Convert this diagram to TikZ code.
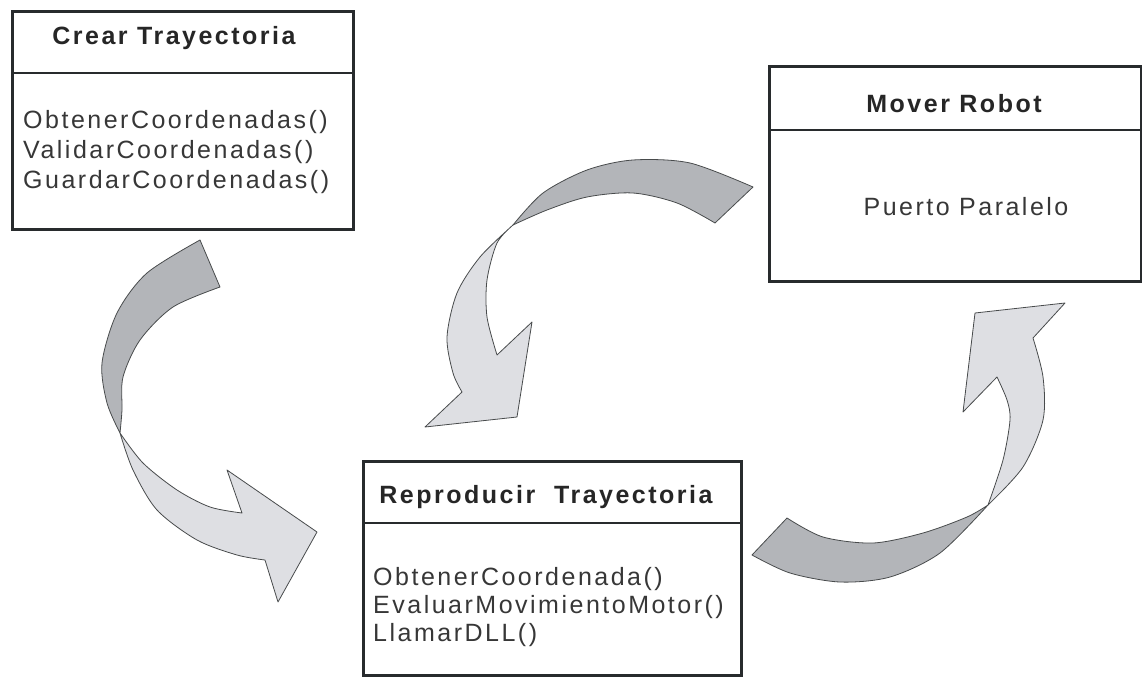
\documentclass[tikz,border=0pt]{standalone}
\usepackage{fontspec}
\setmainfont{Liberation Sans}
\newfontfamily\umlfont{Liberation Sans}[LetterSpace=10]
\usetikzlibrary{positioning}

\definecolor{cintaOscura}{RGB}{179,181,185}
\definecolor{cintaClara}{RGB}{222,223,227}
\definecolor{borde}{RGB}{40,43,45}
\definecolor{textoMetodo}{RGB}{55,55,55}

\begin{document}
\begin{tikzpicture}[x=1pt, y=-1pt,
    clase/.style={draw=borde, line width=2.6pt, rectangle, anchor=north west, inner sep=0pt},
    divisor/.style={draw=borde, line width=1.6pt},
    titulo/.style={font=\umlfont\fontsize{25}{28}\selectfont\bfseries, text=black!85, anchor=base, inner sep=0pt},
    metodos/.style={font=\umlfont\fontsize{25}{30}\selectfont, text=textoMetodo, align=left, anchor=north west, inner sep=0pt},
    cinta/.style={draw=borde!85, line width=0.8pt, line join=round},
    ]
  \useasboundingbox (0,0) rectangle (1142,677);

  % clases
  \node[clase, minimum width=341pt, minimum height=218pt] (crear) at (11,10) {};
  \node[clase, minimum width=372pt, minimum height=215pt] (mover) at (768,65) {};
  \node[clase, minimum width=378pt, minimum height=214pt] (reproducir) at (362,460) {};

  \draw[divisor] ([yshift=-63pt]crear.north west) -- ([yshift=-63pt]crear.north east);
  \draw[divisor] ([yshift=-65pt]mover.north west) -- ([yshift=-65pt]mover.north east);
  \draw[divisor] ([yshift=-63pt]reproducir.north west) -- ([yshift=-63pt]reproducir.north east);

  \node[titulo] (crearT) at (174,45) {Crear Trayectoria};
  \node[titulo] (moverT) at (954,112) {Mover Robot};
  \node[titulo] (reproducirT) at (546,503) {Reproducir\ \ Trayectoria};

  \node[metodos] (crearM) at (23,109.8) {ObtenerCoordenadas()\\ValidarCoordenadas()\\GuardarCoordenadas()};
  \node[metodos, anchor=base] (moverM) at (966,215) {Puerto Paralelo};
  \node[metodos, font=\umlfont\fontsize{25}{28}\selectfont] (reproducirM) at (373,566.8)
    {ObtenerCoordenada()\\EvaluarMovimientoMotor()\\LlamarDLL()};

  % cinta de Crear a Reproducir
  \path[cinta, fill=cintaOscura]
    plot[smooth] coordinates {(200,240) (147,273) (117,313) (102,363) (107,403) (120,433)}
    -- plot[smooth] coordinates {(120,433) (122,410) (123,377) (140,340) (173,307) (220,287)} -- cycle;
  \path[cinta, fill=cintaClara]
    plot[smooth] coordinates {(120,433) (143,463) (177,490) (210,507) (242,513)}
    -- (227,470) -- (317,532) -- (278,602) -- (265,560)
    -- plot[smooth] coordinates {(265,560) (237,555) (197,540) (157,510) (133,470) (120,433)} -- cycle;

  % cinta de Mover a Reproducir
  \path[cinta, fill=cintaOscura]
    plot[smooth] coordinates {(753,187) (690,163) (633,160) (587,170) (543,193) (513,225)}
    -- plot[smooth] coordinates {(513,225) (547,210) (587,197) (633,193) (677,203) (715,223)} -- cycle;
  \path[cinta, fill=cintaClara]
    plot[smooth] coordinates {(513,225) (497,243) (487,280) (487,317) (497,355)}
    -- (532,322) -- (517,417) -- (425,427) -- (462,392)
    -- plot[smooth] coordinates {(462,392) (453,373) (447,337) (457,293) (480,257) (513,225)} -- cycle;

  % cinta de Reproducir a Mover
  \path[cinta, fill=cintaOscura]
    plot[smooth] coordinates {(752,555) (790,573) (840,582) (890,577) (940,553) (988,505)}
    -- plot[smooth] coordinates {(988,505) (967,517) (923,533) (873,543) (823,537) (787,518)} -- cycle;
  \path[cinta, fill=cintaClara]
    plot[smooth] coordinates {(988,505) (1003,460) (1010,420) (1007,400) (997,377)}
    -- (963,412) -- (975,313) -- (1065,303) -- (1033,338)
    -- plot[smooth] coordinates {(1033,338) (1043,377) (1043,420) (1023,467) (988,505)} -- cycle;
\end{tikzpicture}
\end{document}
